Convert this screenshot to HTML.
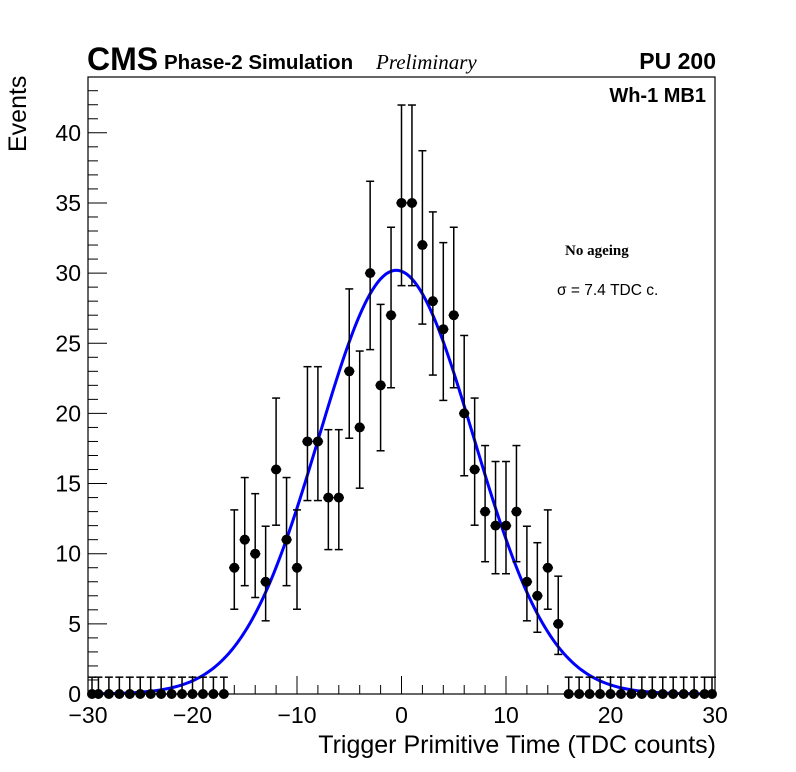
<!DOCTYPE html>
<html><head><meta charset="utf-8"><style>
body{margin:0;background:#fff;}
svg{display:block;font-family:"Liberation Sans",sans-serif;}
</style></head><body>
<svg id="chart" width="796" height="772" viewBox="0 0 796 772">
<rect x="0" y="0" width="796" height="772" fill="#fff"/>
<g id="axes"></g>
<g id="fit"></g>
<g id="points"></g>
<rect x="88" y="77" width="627" height="617" fill="none" stroke="#000" stroke-width="1.2"/>
<text x="87" y="70" font-size="32" font-weight="bold">CMS</text>
<text x="164" y="69" font-size="20.5" font-weight="bold">Phase-2 Simulation</text>
<text x="376" y="69" font-size="21" font-style="italic" font-family="Liberation Serif,serif">Preliminary</text>
<text x="716" y="69" font-size="23" font-weight="bold" text-anchor="end">PU 200</text>
<text x="706" y="102" font-size="20" font-weight="bold" text-anchor="end">Wh-1 MB1</text>
<text x="565" y="255" font-size="15" font-weight="bold" font-family="Liberation Serif,serif">No ageing</text>
<text x="557" y="295" font-size="15.5">σ = 7.4 TDC c.</text>
<text x="716" y="753" font-size="25" text-anchor="end">Trigger Primitive Time (TDC counts)</text>
<text transform="translate(26,152) rotate(-90)" font-size="25">Events</text>
</svg>
<script>
const binCenters = [];
for (let i = 0; i < 61; i++) binCenters.push(-30 + i);
const counts = [0,0,0,0,0,0,0,0,0,0,0,0,0,0,
  9,11,10,8,16,11,9,18,18,14,14,23,19,30,22,27,35,35,32,28,26,27,20,16,13,12,12,13,8,7,9,5,
  0,0,0,0,0,0,0,0,0,0,0,0,0,0,0];
const fitAmp = 30.2, fitMean = -0.5, fitSigma = 7.4;
const xTicks = [-30,-20,-10,0,10,20,30];
const yTicks = [0,5,10,15,20,25,30,35,40];

const NS = 'http://www.w3.org/2000/svg';
const X0 = 88, X1 = 715, Y0 = 694, PXY = 14.03;
const sx = v => X0 + (v + 30) / 60 * (X1 - X0);
const sy = v => Y0 - v * PXY;
function mk(tag, attrs, parent) {
  const e = document.createElementNS(NS, tag);
  for (const k in attrs) e.setAttribute(k, attrs[k]);
  parent.appendChild(e);
  return e;
}
const axes = document.getElementById('axes');
for (let v = -30; v <= 30; v += 2) {
  const major = v % 10 === 0;
  const t = mk('line', {x1: sx(v), x2: sx(v), y1: Y0, y2: Y0 - (major ? 18 : 9), stroke: '#000', 'stroke-width': 1}, axes);
  
  
}
xTicks.forEach(v => {
  const t = mk('text', {x: sx(v), y: 723, 'font-size': 23, 'text-anchor': 'middle'}, axes);
  t.textContent = v < 0 ? '\u2212' + Math.abs(v) : String(v);
  
  
});
for (let v = 0; v <= 43; v += 1) {
  const major = v % 5 === 0;
  const t = mk('line', {x1: X0, x2: X0 + (major ? 19 : 10), y1: sy(v), y2: sy(v), stroke: '#000', 'stroke-width': 1}, axes);
  
  
}
yTicks.forEach(v => {
  const t = mk('text', {x: 81, y: sy(v) + 8, 'font-size': 23, 'text-anchor': 'end'}, axes);
  t.textContent = String(v);
  
  
});
const fitG = document.getElementById('fit');
let d = '';
for (let x = -30; x <= 30.001; x += 0.25) {
  const y = fitAmp * Math.exp(-0.5 * Math.pow((x - fitMean) / fitSigma, 2));
  d += (d ? 'L' : 'M') + sx(x).toFixed(2) + ',' + sy(y).toFixed(2);
}
const fp = mk('path', {d: d, fill: 'none', stroke: '#0000ff', 'stroke-width': 3}, fitG);


const pts = document.getElementById('points');
binCenters.forEach((c, i) => {
  const n = counts[i];
  const up = n === 0 ? 1.2 : Math.sqrt(n + 0.75) + 1;
  const dn = n === 0 ? 0 : Math.sqrt(Math.max(n - 0.25, 0));
  const g = mk('g', {}, pts);
  
  
  const x = Math.min(Math.max(sx(c), X0 + 4), X1 - 3), y = sy(n);
  mk('line', {x1: x, x2: x, y1: sy(n + up), y2: sy(n - dn), stroke: '#000', 'stroke-width': 1.5}, g);
  mk('line', {x1: x - 4, x2: x + 4, y1: sy(n + up), y2: sy(n + up), stroke: '#000', 'stroke-width': 1.5}, g);
  if (dn > 0) mk('line', {x1: x - 4, x2: x + 4, y1: sy(n - dn), y2: sy(n - dn), stroke: '#000', 'stroke-width': 1.5}, g);
  mk('line', {x1: Math.max(sx(c - 0.5), X0), x2: Math.min(sx(c + 0.5), X1), y1: y, y2: y, stroke: '#000', 'stroke-width': 1.5}, g);
  mk('circle', {cx: x, cy: y, r: 5, fill: '#000'}, g);
});
</script>
</body></html>
